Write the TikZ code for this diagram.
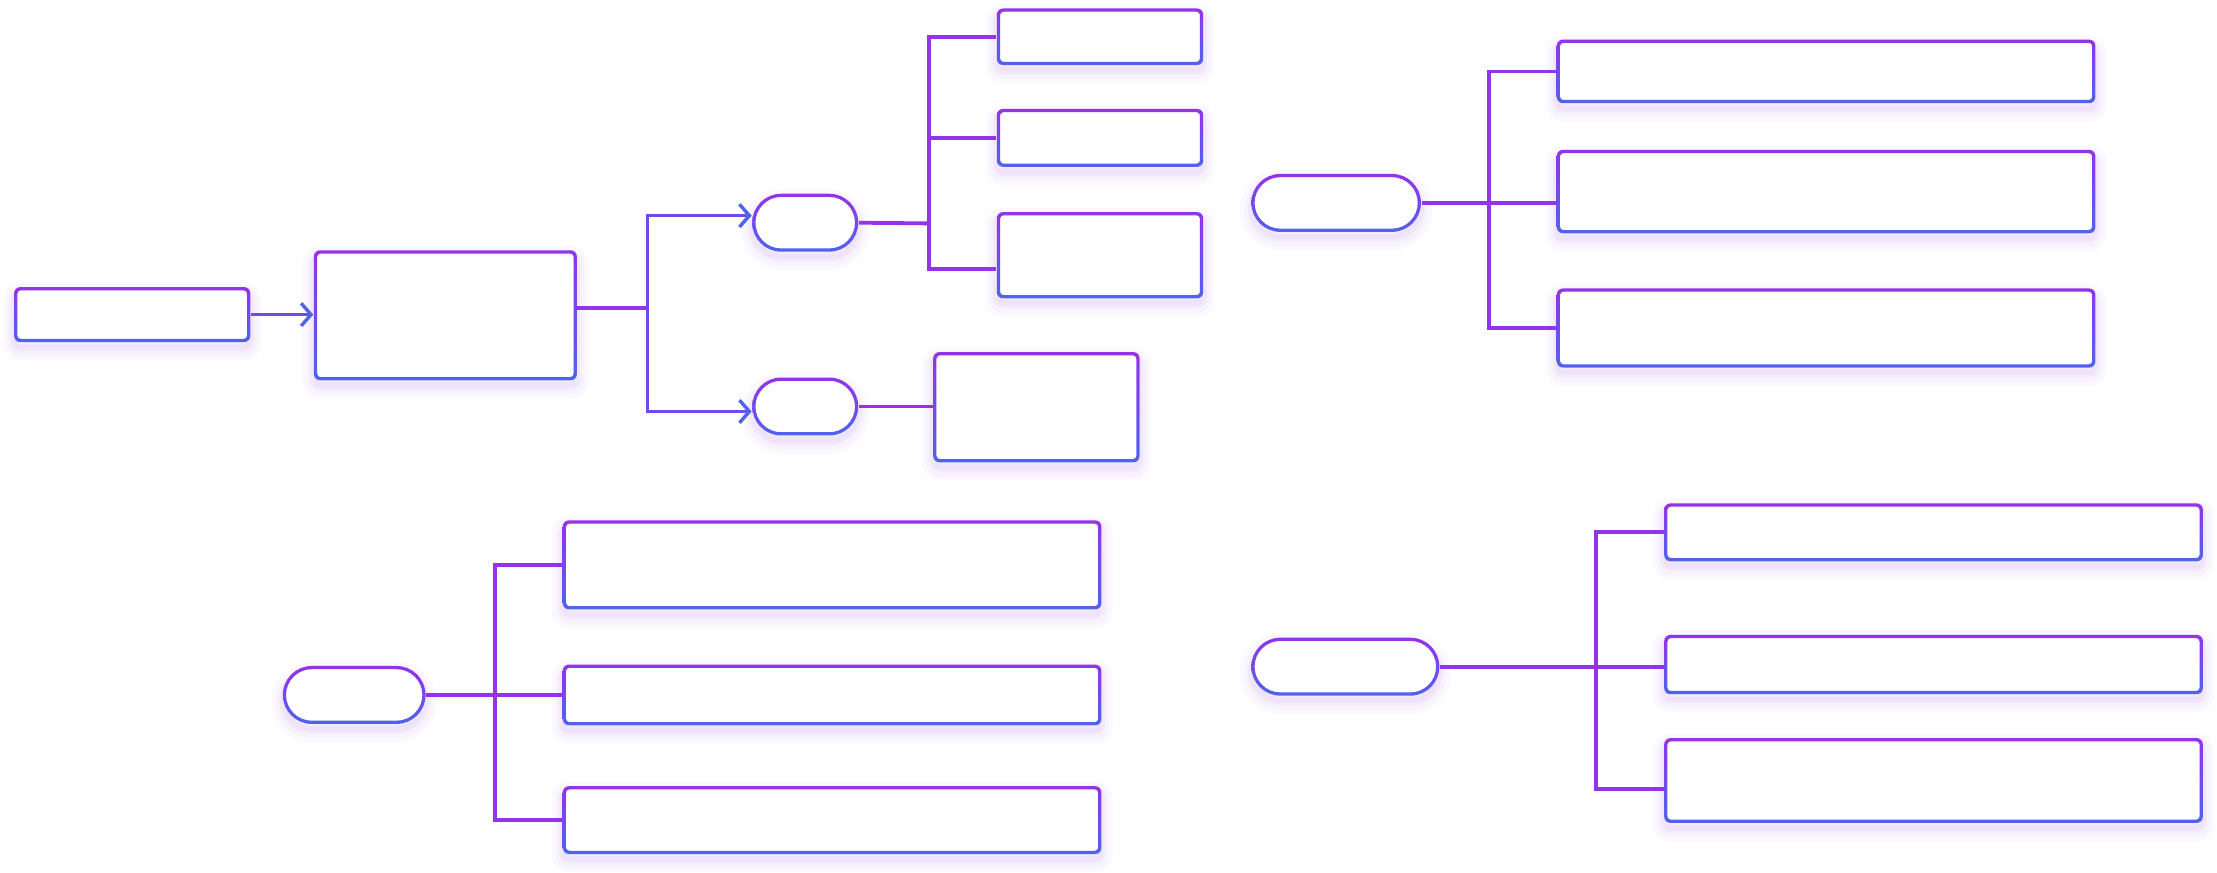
\documentclass[tikz,border=0pt]{standalone}
\usetikzlibrary{arrows.meta,shadows}
\definecolor{ca}{HTML}{9333EA}
\definecolor{cb}{HTML}{4F63EE}
\definecolor{glowc}{HTML}{A855F7}
\tikzset{
  glow/.style={
    general shadow={shadow yshift=-2.5pt, draw=glowc, line width=8pt, draw opacity=0.035, fill=glowc, fill opacity=0.04},
    general shadow={shadow yshift=-2.5pt, draw=glowc, line width=5pt, draw opacity=0.04},
    general shadow={shadow yshift=-2pt, draw=glowc, line width=2.5pt, draw opacity=0.06}},
  ring/.style={path picture={\shade[top color=ca,bottom color=cb,even odd rule]
     (path picture bounding box.south west) rectangle (path picture bounding box.north east)
     [rounded corners=#1]
     ([shift={(1.15pt,1.15pt)}]path picture bounding box.south west) rectangle
     ([shift={(-1.15pt,-1.15pt)}]path picture bounding box.north east);}},
  card/.style={rectangle, inner sep=0pt, fill=white, rounded corners=2.2pt, glow, ring=1.2pt},
  pill/.style={rectangle, inner sep=0pt, fill=white, rounded corners=10.25pt, glow, ring=9.1pt},
  conn/.style={draw=ca, line width=1.35pt},
  arr/.style={draw=ca!55!cb, line width=1.2pt, -{Straight Barb[length=3.5pt,width=8pt,color=cb]}},
}
\newcommand{\mkbox}[6]{\node[#2, minimum width={(#5-#3)*0.5pt}, minimum height={(#6-#4)*0.5pt}] (#1) at ({(#3+#5)/2},{(#4+#6)/2}) {};}
\begin{document}
\begin{tikzpicture}[x=0.5pt,y=-0.5pt]
\fill[white] (0,0) rectangle (1568,617);
\useasboundingbox (0,0) rectangle (1568,617);
% left chain
\mkbox{A}{card}{10}{203}{177}{242}
\mkbox{B}{card}{222}{177}{408}{269}
\mkbox{P1}{pill}{532}{137}{607}{178}
\mkbox{P2}{pill}{532}{267}{607}{308}
\mkbox{C1}{card}{705}{6}{851}{46}
\mkbox{C2}{card}{705}{77}{851}{118}
\mkbox{C3}{card}{705}{150}{851}{211}
\mkbox{D}{card}{660}{249}{806}{327}
% top right
\mkbox{Q}{pill}{885}{123}{1005}{164}
\mkbox{E1}{card}{1101}{28}{1482}{73}
\mkbox{E2}{card}{1101}{106}{1482}{165}
\mkbox{E3}{card}{1101}{204}{1482}{260}
% bottom left
\mkbox{R}{pill}{200}{471}{301}{512}
\mkbox{F1}{card}{398}{368}{779}{431}
\mkbox{F2}{card}{398}{470}{779}{513}
\mkbox{F3}{card}{398}{556}{779}{604}
% bottom right
\mkbox{S}{pill}{885}{451}{1018}{492}
\mkbox{G1}{card}{1177}{356}{1558}{397}
\mkbox{G2}{card}{1177}{449}{1558}{491}
\mkbox{G3}{card}{1177}{522}{1558}{582}
% connectors
\draw[arr] (A.east) -- (A.east -| B.west);
\coordinate (j1) at (458,218);
\draw[conn] (B.east |- j1) -- (j1);
\draw[arr] (j1) |- ([yshift=2.5pt]P1.west);
\draw[arr] (j1) |- ([yshift=-1.75pt]P2.west);
\coordinate (k1) at (657,158);
\draw[conn] (P1.east) -- (k1);
\draw[conn] (k1) |- (C1.west);
\draw[conn] (k1) |- (C2.west);
\draw[conn] (k1) |- ([yshift=-4.75pt]C3.west);
\draw[conn] (P2.east) -- (P2.east -| D.west);
\coordinate (q) at (1053,143.5);
\draw[conn] (Q.east) -- (Q.east -| E2.west);
\draw[conn] (q) |- (E1.west);
\draw[conn] (q) |- (E3.west);
\coordinate (r) at (350,491.5);
\draw[conn] (R.east) -- (R.east -| F2.west);
\draw[conn] (r) |- (F1.west);
\draw[conn] (r) |- (F3.west);
\coordinate (s) at (1129,471);
\draw[conn] (S.east) -- (S.east -| G2.west);
\draw[conn] (s) |- (G1.west);
\draw[conn] (s) |- ([yshift=-3pt]G3.west);
\end{tikzpicture}
\end{document}
